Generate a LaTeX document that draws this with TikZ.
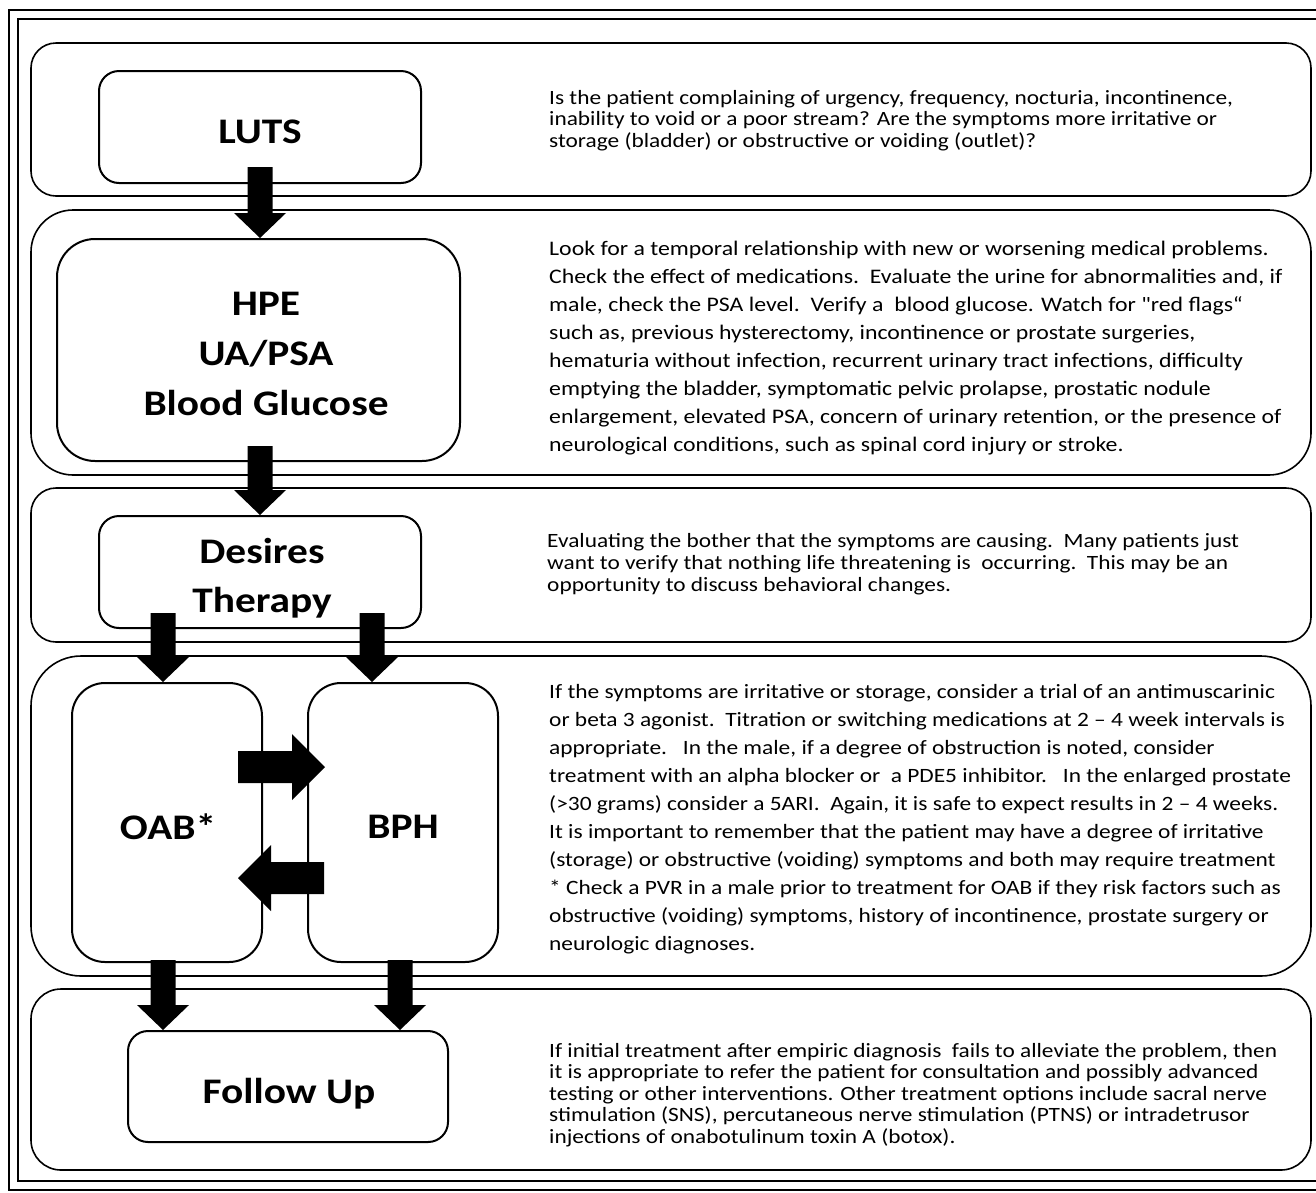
\documentclass[tikz,border=0pt]{standalone}
\usepackage{fontspec}
\setmainfont{Carlito}[FakeStretch=1.15, Ligatures=TeXOff]
\usetikzlibrary{calc}
\tikzset{
  band/.style={draw, line width=1.6pt, rounded corners=#1, inner sep=0pt},
  box/.style={draw, line width=2pt, rounded corners=#1, inner sep=0pt},
  lbl/.style={anchor=base, inner sep=0pt, align=center, font=\fontsize{36}{50}\selectfont\bfseries},
  bodyA/.style={anchor=base west, inner sep=0pt, align=left, font=\fontsize{20.3}{21.3}\selectfont},
  bodyB/.style={anchor=base west, inner sep=0pt, align=left, font=\fontsize{20.7}{27.9}\selectfont},
  frame/.style={draw, line width=1.5pt},
}
\newcommand\blkdown[2]{\fill let \p1=(#1), \p2=(#2) in (\x1-12.5pt,\y1) -- (\x1+12.5pt,\y1) -- (\x1+12.5pt,\y2+25pt) -- (\x1+26pt,\y2+25pt) -- (\x1,\y2) -- (\x1-26pt,\y2+25pt) -- (\x1-12.5pt,\y2+25pt) -- cycle;}
\newcommand\blkright[2]{\fill let \p1=(#1), \p2=(#2) in (\x1,\y1-16pt) -- (\x2-33pt,\y1-16pt) -- (\x2-33pt,\y1-33pt) -- (\x2,\y1) -- (\x2-33pt,\y1+33pt) -- (\x2-33pt,\y1+16pt) -- (\x1,\y1+16pt) -- cycle;}
\newcommand\blkleft[2]{\fill let \p1=(#1), \p2=(#2) in (\x1,\y1-16pt) -- (\x2+33pt,\y1-16pt) -- (\x2+33pt,\y1-33pt) -- (\x2,\y1) -- (\x2+33pt,\y1+33pt) -- (\x2+33pt,\y1+16pt) -- (\x1,\y1+16pt) -- cycle;}
\begin{document}
\begin{tikzpicture}[x=1pt,y=-1pt]
\useasboundingbox (0,0) rectangle (1316,1192);
\clip (0,0) rectangle (1316,1192);
\fill[white] (0,0) rectangle (1316,1192);
% double frame (right side lies beyond the picture)
\draw[frame] (9,10) rectangle (1340,1190);
\draw[frame] (18,19) rectangle (1330,1181);
% bands
\node[band=25pt, minimum width=1280pt, minimum height=153pt] (b1) at (671,119.5) {};
\node[band=42pt, minimum width=1280pt, minimum height=265pt] (b2) at (671,342.5) {};
\node[band=25pt, minimum width=1280pt, minimum height=154pt] (b3) at (671,565) {};
\node[band=50pt, minimum width=1280pt, minimum height=320pt] (b4) at (671,816) {};
\node[band=30pt, minimum width=1280pt, minimum height=181pt] (b5) at (671,1079.5) {};
% boxes
\node[box=20pt, minimum width=322pt, minimum height=112pt] (luts) at (260,127) {};
\node[box=38pt, minimum width=403pt, minimum height=222pt] (hpe) at (258.5,350) {};
\node[box=20pt, minimum width=322pt, minimum height=112pt] (des) at (260,572) {};
\node[box=33pt, minimum width=190pt, minimum height=279pt] (oab) at (167,822.5) {};
\node[box=33pt, minimum width=190pt, minimum height=279pt] (bph) at (403,822.5) {};
\node[box=20pt, minimum width=320pt, minimum height=111pt] (fol) at (288,1086.5) {};
% box labels (base = baseline of the last line)
\node[lbl] (lutsT) at ($(luts.center)+(0,16)$) {LUTS};
\node[lbl] (hpeT) at ($(hpe.center)+(7.5,65)$) {HPE\\UA/PSA\\Blood Glucose};
\node[lbl, font=\fontsize{36}{49}\selectfont\bfseries] (desT) at ($(des.center)+(2,40)$) {Desires\\Therapy};
\node[lbl] (oabT) at ($(oab.center)+(1,16.5)$) {OAB*};
\node[lbl] (bphT) at ($(bph.center)+(0,15.5)$) {BPH};
\node[lbl] (folT) at ($(fol.center)+(1,16.5)$) {Follow Up};
% arrows
\coordinate (a1s) at ($(luts.south)+(0,-17)$);
\blkdown{a1s}{a1s |- hpe.north}
\coordinate (a2s) at ($(hpe.south)+(1.5,-16)$);
\blkdown{a2s}{a2s |- des.north}
\coordinate (a3s) at ($(des.south)+(-97,-16)$);
\blkdown{a3s}{a3s |- oab.north}
\coordinate (a4s) at ($(des.south)+(112,-16)$);
\blkdown{a4s}{a4s |- bph.north}
\coordinate (a5s) at ($(oab.south)+(-4,-3)$);
\blkdown{a5s}{a5s |- fol.north}
\coordinate (a6s) at ($(bph.south)+(-3,-3)$);
\blkdown{a6s}{a6s |- fol.north}
\coordinate (a7s) at ($(oab.east)+(-25,-55.5)$);
\coordinate (a7t) at ($(bph.west)+(18,-55.5)$);
\blkright{a7s}{a7t}
\coordinate (a8s) at ($(bph.west)+(17,55.5)$);
\coordinate (a8t) at ($(oab.east)+(-25,55.5)$);
\blkleft{a8s}{a8t}
% descriptive texts (base = baseline of the last line)
\node[bodyA] (t1) at (549,147) {Is the patient complaining of urgency, frequency, nocturia, incontinence,\\inability to void or a poor stream? Are the symptoms more irritative or\\storage (bladder) or obstructive or voiding (outlet)?};
\node[bodyB] (t2) at (549,451) {Look for a temporal relationship with new or worsening medical problems.\\Check the effect of medications.\ \ Evaluate the urine for abnormalities and, if\\male, check the PSA level.\ \ Verify a\ \ blood glucose. Watch for "red flags“\\such as, previous hysterectomy, incontinence or prostate surgeries,\\hematuria without infection, recurrent urinary tract infections, difficulty\\emptying the bladder, symptomatic pelvic prolapse, prostatic nodule\\enlargement, elevated PSA, concern of urinary retention, or the presence of\\neurological conditions, such as spinal cord injury or stroke.};
\node[bodyA, font=\fontsize{20.3}{22}\selectfont] (t3) at (547,591) {Evaluating the bother that the symptoms are causing.\ \ Many patients just\\want to verify that nothing life threatening is\ \ occurring.\ \ This may be an\\opportunity to discuss behavioral changes.};
\node[bodyB, font=\fontsize{20.35}{27.9}\selectfont] (t4) at (549,950) {If the symptoms are irritative or storage, consider a trial of an antimuscarinic\\or beta 3 agonist.\ \ Titration or switching medications at 2 – 4 week intervals is\\appropriate.\ \ \ In the male, if a degree of obstruction is noted, consider\\treatment with an alpha blocker or\ \ a PDE5 inhibitor.\ \ \ In the enlarged prostate\\(>30 grams) consider a 5ARI.\ \ Again, it is safe to expect results in 2 – 4 weeks.\\It is important to remember that the patient may have a degree of irritative\\(storage) or obstructive (voiding) symptoms and both may require treatment\\* Check a PVR in a male prior to treatment for OAB if they risk factors such as\\obstructive (voiding) symptoms, history of incontinence, prostate surgery or\\neurologic diagnoses.};
\node[bodyA, font=\fontsize{20.3}{21.5}\selectfont] (t5) at (549,1143) {If initial treatment after empiric diagnosis\ \ fails to alleviate the problem, then\\it is appropriate to refer the patient for consultation and possibly advanced\\testing or other interventions. Other treatment options include sacral nerve\\stimulation (SNS), percutaneous nerve stimulation (PTNS) or intradetrusor\\injections of onabotulinum toxin A (botox).};
\end{tikzpicture}
\end{document}
